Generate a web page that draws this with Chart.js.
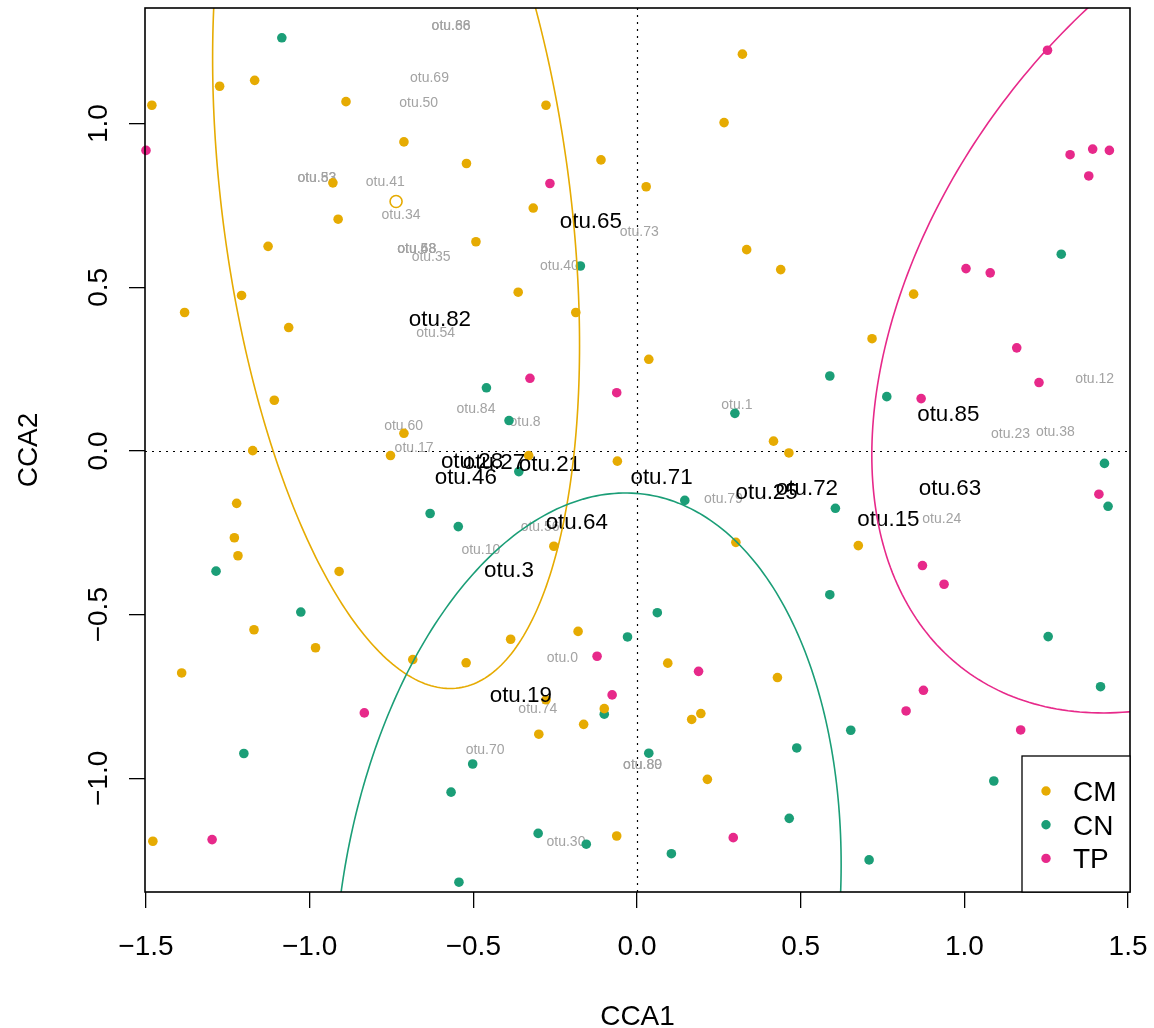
<!DOCTYPE html>
<html>
<head>
<meta charset="utf-8">
<script src="https://cdn.jsdelivr.net/npm/chart.js@4.4.1/dist/chart.umd.min.js"></script>
<style>
  body { margin: 0; background: #fff; }
</style>
</head>
<body>
<canvas id="canvas" width="1154" height="1028"></canvas>
<script>
const canvas = document.getElementById('canvas');
const ctx = canvas.getContext('2d');

const groups = ['CM', 'CN', 'TP'];
const groupColors = ['#E6AB02', '#1B9E77', '#E7298A'];

// site scores per group (CCA1, CCA2)
const cmX = [-1.275, -1.168, -1.482, -0.889, -0.712, -0.521, -0.929, -0.913, -1.127, -0.492,
  -1.208, 0.322, 0.266, -0.278, -0.110, 0.028, -0.317, 0.335, 0.439, -0.363,
  0.845, -1.382, -1.064, -1.108, -1.174, -0.712, -0.753, -1.223, -1.230, -1.219,
  -0.910, -0.187, 0.036, 0.417, 0.464, -0.331, -0.060, 0.302, -0.254, 0.718,
  0.676, -1.170, -0.982, -1.391, -0.685, -0.522, -1.479, -0.386, -0.180, 0.094,
  0.429, -0.278, -0.100, 0.195, 0.167, -0.163, -0.300, 0.215, -0.062];
const cmY = [1.114, 1.132, 1.056, 1.067, 0.944, 0.878, 0.819, 0.708, 0.625, 0.639,
  0.475, 1.212, 1.003, 1.056, 0.889, 0.807, 0.742, 0.615, 0.554, 0.485,
  0.479, 0.423, 0.377, 0.155, 0.001, 0.054, -0.014, -0.160, -0.265, -0.320,
  -0.368, 0.423, 0.280, 0.030, -0.006, -0.014, -0.031, -0.279, -0.291, 0.343,
  -0.289, -0.546, -0.601, -0.678, -0.637, -0.647, -1.192, -0.575, -0.551, -0.648,
  -0.692, -0.760, -0.787, -0.802, -0.820, -0.835, -0.865, -1.003, -1.176];

const cnX = [-1.085, -0.173, 1.296, -1.286, -0.632, -0.546, -0.460, 0.299, -0.391, -0.361,
  0.146, 0.589, 0.763, 1.428, 1.439, 0.606, 0.589, -1.027, -1.201, -0.502,
  -0.568, -0.544, -0.029, 0.062, -0.100, 0.488, 0.036, 0.465, -0.302, -0.155,
  0.105, 1.256, 1.416, 0.653, 1.090, 0.709];
const cnY = [1.262, 0.565, 0.601, -0.367, -0.191, -0.231, 0.193, 0.115, 0.093, -0.063,
  -0.151, 0.229, 0.166, -0.038, -0.169, -0.175, -0.439, -0.492, -0.924, -0.956,
  -1.042, -1.317, -0.568, -0.494, -0.804, -0.907, -0.923, -1.122, -1.168, -1.201,
  -1.230, -0.567, -0.720, -0.853, -1.008, -1.249];

const tpX = [-1.500, -0.266, 1.254, 1.323, 1.392, 1.443, 1.380, 1.005, 1.079, -0.327,
  -0.062, 0.868, 1.160, 1.228, 1.411, 0.872, 0.938, -0.833, -1.298, -0.122,
  0.188, -0.076, 0.294, 0.875, 0.822, 1.172];
const tpY = [0.918, 0.817, 1.224, 0.905, 0.922, 0.918, 0.840, 0.557, 0.544, 0.222,
  0.178, 0.160, 0.315, 0.209, -0.132, -0.350, -0.407, -0.800, -1.187, -0.627,
  -0.673, -0.745, -1.181, -0.731, -0.794, -0.852];

// hollow marker
const centroidX = [-0.736];
const centroidY = [0.762];

// species shown in black
const speciesNames = ['otu.65', 'otu.82', 'otu.28', 'otu.27', 'otu.46', 'otu.21', 'otu.71', 'otu.64',
  'otu.3', 'otu.25', 'otu.72', 'otu.85', 'otu.63', 'otu.15', 'otu.19'];
const speciesX = [-0.141, -0.602, -0.504, -0.437, -0.523, -0.266, 0.075, -0.184,
  -0.391, 0.396, 0.519, 0.951, 0.956, 0.768, -0.355];
const speciesY = [0.707, 0.405, -0.027, -0.031, -0.076, -0.038, -0.076, -0.215,
  -0.361, -0.121, -0.109, 0.115, -0.109, -0.204, -0.743];

// species shown in grey
const minorNames = ['otu.66', 'otu.88', 'otu.69', 'otu.50', 'otu.41', 'otu.34', 'otu.52', 'otu.83',
  'otu.43', 'otu.58', 'otu.68', 'otu.35', 'otu.73', 'otu.40', 'otu.54', 'otu.84', 'otu.8',
  'otu.60', 'otu.17', 'otu.1', 'otu.12', 'otu.23', 'otu.38', 'otu.24', 'otu.79', 'otu.56',
  'otu.10', 'otu.0', 'otu.74', 'otu.70', 'otu.80', 'otu.89', 'otu.30'];
const minorX = [-0.568, -0.568, -0.634, -0.667, -0.769, -0.721, -0.978, -0.978,
  -0.673, -0.673, -0.673, -0.629, 0.007, -0.237, -0.615, -0.492, -0.342,
  -0.713, -0.681, 0.305, 1.398, 1.141, 1.278, 0.931, 0.264, -0.296,
  -0.477, -0.228, -0.303, -0.464, 0.017, 0.017, -0.217];
const minorY = [1.300, 1.300, 1.141, 1.065, 0.825, 0.724, 0.836, 0.836,
  0.619, 0.619, 0.619, 0.595, 0.671, 0.568, 0.364, 0.131, 0.093,
  0.081, 0.012, 0.143, 0.222, 0.054, 0.062, -0.204, -0.144, -0.229,
  -0.299, -0.628, -0.786, -0.911, -0.956, -0.956, -1.190];

// group ellipses: centre, variances and covariance
const ellCX = [-0.736, -0.151, 1.881];
const ellCY = [0.762, -1.463, 0.498];
const ellVarX = [0.3141, 0.6000, 1.3542];
const ellVarY = [2.2126, 1.7816, 1.6851];
const ellCov = [-0.2453, 0.1549, 0.5936];

const xTicks = [-1.5, -1.0, -0.5, 0.0, 0.5, 1.0, 1.5];
const xTickLabels = ['\u22121.5', '\u22121.0', '\u22120.5', '0.0', '0.5', '1.0', '1.5'];
const yTicks = [-1.0, -0.5, 0.0, 0.5, 1.0];
const yTickLabels = ['\u22121.0', '\u22120.5', '0.0', '0.5', '1.0'];

const FONT = '"Liberation Sans", Arial, Helvetica, sans-serif';

function toPoints(xs, ys) {
  return xs.map((x, i) => ({x: x, y: ys[i]}));
}

function drawLabel(c, txt, px, py, size, color) {
  c.font = size + 'px ' + FONT;
  c.fillStyle = color;
  c.textAlign = 'center';
  c.textBaseline = 'alphabetic';
  c.fillText(txt, px, py + 0.36 * size);
}

const decor = {
  id: 'decor',
  beforeDatasetsDraw(chart) {
    const c = chart.ctx, a = chart.chartArea;
    const xs = chart.scales.x, ys = chart.scales.y;
    c.save();
    // dotted zero lines
    c.strokeStyle = '#000';
    c.lineWidth = 1.2;
    c.setLineDash([2, 5]);
    c.beginPath();
    const x0 = Math.round(xs.getPixelForValue(0)) + 0.5;
    const y0 = Math.round(ys.getPixelForValue(0)) + 0.5;
    c.moveTo(x0, a.top); c.lineTo(x0, a.bottom);
    c.moveTo(a.left, y0); c.lineTo(a.right, y0);
    c.stroke();
    c.setLineDash([]);
    minorNames.forEach((n, i) => {
      drawLabel(c, n, xs.getPixelForValue(minorX[i]), ys.getPixelForValue(minorY[i]), 14, '#a3a3a3');
    });
    c.restore();
  },
  afterDatasetsDraw(chart) {
    const c = chart.ctx, a = chart.chartArea;
    const xs = chart.scales.x, ys = chart.scales.y;
    c.save();
    speciesNames.forEach((n, i) => {
      drawLabel(c, n, xs.getPixelForValue(speciesX[i]), ys.getPixelForValue(speciesY[i]), 22.4, '#000');
    });
    c.beginPath();
    c.rect(a.left, a.top, a.right - a.left, a.bottom - a.top);
    c.clip();
    c.lineWidth = 1.6;
    for (let g = 0; g < ellCX.length; g++) {
      const l11 = Math.sqrt(ellVarX[g]);
      const l21 = ellCov[g] / l11;
      const l22 = Math.sqrt(ellVarY[g] - l21 * l21);
      c.strokeStyle = groupColors[g];
      c.beginPath();
      for (let k = 0; k <= 360; k++) {
        const t = k * Math.PI / 180;
        const vx = ellCX[g] + l11 * Math.cos(t);
        const vy = ellCY[g] + l21 * Math.cos(t) + l22 * Math.sin(t);
        const px = xs.getPixelForValue(vx), py = ys.getPixelForValue(vy);
        if (k === 0) c.moveTo(px, py); else c.lineTo(px, py);
      }
      c.stroke();
    }
    c.restore();
  },
  afterDraw(chart) {
    const c = chart.ctx, a = chart.chartArea;
    const xs = chart.scales.x, ys = chart.scales.y;
    c.save();
    c.strokeStyle = '#000';
    c.lineWidth = 1.6;
    c.strokeRect(a.left, a.top, a.right - a.left, a.bottom - a.top);

    c.fillStyle = '#000';
    c.font = '28px ' + FONT;
    c.textAlign = 'center';
    c.textBaseline = 'alphabetic';
    xTicks.forEach((v, i) => {
      c.fillText(xTickLabels[i], xs.getPixelForValue(v), a.bottom + 63);
    });
    yTicks.forEach((v, i) => {
      c.save();
      c.translate(a.left - 38, ys.getPixelForValue(v));
      c.rotate(-Math.PI / 2);
      c.fillText(yTickLabels[i], 0, 0);
      c.restore();
    });
    c.fillText('CCA1', (a.left + a.right) / 2, a.bottom + 133);
    c.save();
    c.translate(a.left - 108, (a.top + a.bottom) / 2);
    c.rotate(-Math.PI / 2);
    c.fillText('CCA2', 0, 0);
    c.restore();

    // legend, bottom right
    const lw = 108, lh = 136;
    const lx = a.right - lw, ly = a.bottom - lh;
    c.fillStyle = '#fff';
    c.fillRect(lx, ly, lw, lh);
    c.lineWidth = 1.3;
    c.strokeRect(lx, ly, lw, lh);
    c.textAlign = 'left';
    groups.forEach((gname, i) => {
      const cy = ly + 35 + i * 33.7;
      c.fillStyle = groupColors[i];
      c.beginPath();
      c.arc(lx + 24, cy, 4.7, 0, Math.PI * 2);
      c.fill();
      c.fillStyle = '#000';
      c.fillText(gname, lx + 51, cy + 10);
    });
    c.restore();
  }
};

function dataset(label, xs, ys, color) {
  return {
    label: label,
    data: toPoints(xs, ys),
    backgroundColor: color,
    borderWidth: 0,
    pointRadius: 4.8,
    pointHoverRadius: 4.8,
    clip: 6
  };
}

new Chart(ctx, {
  type: 'scatter',
  data: {
    datasets: [
      dataset('CM', cmX, cmY, groupColors[0]),
      dataset('CN', cnX, cnY, groupColors[1]),
      dataset('TP', tpX, tpY, groupColors[2]),
      {
        label: 'CM centre',
        data: toPoints(centroidX, centroidY),
        backgroundColor: 'rgba(255,255,255,0)',
        borderColor: groupColors[0],
        borderWidth: 1.6,
        pointRadius: 6,
        clip: 6
      }
    ]
  },
  options: {
    responsive: false,
    animation: false,
    devicePixelRatio: 1,
    events: [],
    layout: { padding: { left: 0, right: 24, top: 8, bottom: 0 } },
    plugins: { legend: { display: false }, tooltip: { enabled: false } },
    scales: {
      x: {
        type: 'linear',
        position: 'bottom',
        min: -1.503,
        max: 1.506,
        afterBuildTicks: s => { s.ticks = xTicks.map(v => ({value: v})); },
        afterFit: s => { s.height = 136; },
        ticks: { display: false },
        grid: { drawOnChartArea: false, drawTicks: true, tickLength: 16, color: '#000', lineWidth: 1.3 },
        border: { display: false }
      },
      y: {
        type: 'linear',
        position: 'left',
        min: -1.347,
        max: 1.353,
        afterBuildTicks: s => { s.ticks = yTicks.map(v => ({value: v})); },
        afterFit: s => { s.width = 145; },
        ticks: { display: false },
        grid: { drawOnChartArea: false, drawTicks: true, tickLength: 16, color: '#000', lineWidth: 1.3 },
        border: { display: false }
      }
    }
  },
  plugins: [decor]
});
</script>
</body>
</html>
